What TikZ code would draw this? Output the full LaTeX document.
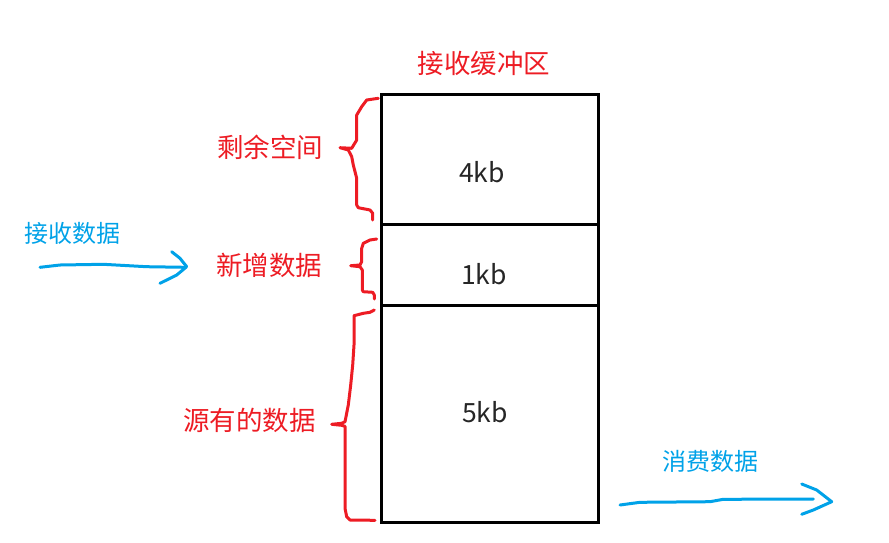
\documentclass[tikz,border=0pt]{standalone}
\usepackage{fontspec}
\newfontfamily\cjk{Noto Sans CJK SC}
\definecolor{pred}{RGB}{237,28,36}
\definecolor{pblue}{RGB}{0,162,232}
\tikzset{
  lbl/.style={font=\cjk\fontsize{26.5}{30}\selectfont, inner sep=0pt},
  redlbl/.style={lbl, text=pred},
  bluelbl/.style={inner sep=0pt, font=\cjk\fontsize{24}{28}\selectfont, text=pblue},
  cell/.style={draw=black, line width=3pt, minimum width=217pt, inner sep=0pt, anchor=north west},
  brace/.style={draw=pred, line width=3pt, line join=round, line cap=round},
  flow/.style={draw=pblue, line width=3pt, line join=round, line cap=round}
}
\begin{document}
\begin{tikzpicture}[x=1pt,y=-1pt]
\useasboundingbox (0,0) rectangle (889,542);
% buffer cells
\node[cell, minimum height=130pt] (free) at (380,93) {};
\node[cell, minimum height=81pt] (new) at (380,223) {};
\node[cell, minimum height=217pt] (old) at (380,304) {};
\node[lbl, text=black!85] (t4) at (482,172) {4kb};
\node[lbl, text=black!85] (t1) at (484,274) {1kb};
\node[lbl, text=black!85] (t5) at (485,412) {5kb};
% labels
\node[redlbl] (title) at (484,63) {接收缓冲区};
\node[redlbl] (lfree) at (270,147) {剩余空间};
\node[redlbl] (lnew) at (269,265) {新增数据};
\node[redlbl] (lold) at (249.5,420) {源有的数据};
\node[bluelbl] (lrecv) at (72,233) {接收数据};
\node[bluelbl] (lcons) at (710,461) {消费数据};
% braces
\draw[brace] (378.3,98.3) -- (366.7,100) -- (361.7,106.7) -- (356.7,115) -- (356.7,140) -- (351.7,148.3) -- (340,147.7)
  -- (348.3,150) -- (351.7,156.7) -- (353.3,165) -- (356.7,178.3) -- (356.7,205) -- (358.3,207.7) -- (370,210) -- (372.7,213.3) -- (372.7,220);
\draw[brace] (376.7,239) -- (370,240) -- (363.3,243.3) -- (361.7,248.3) -- (361.7,261.7) -- (360,265) -- (350.7,265.7)
  -- (360,266.7) -- (362.3,270) -- (362.3,290) -- (363.3,291.7) -- (372.7,292.3) -- (374.3,295) -- (374.3,299);
\draw[brace] (374.3,310) -- (370,312.3) -- (363.3,313.3) -- (354,315.7) -- (354,345) -- (352.7,365) -- (350.7,385) -- (348.3,405) -- (345,421.7) -- (341.7,423.3) -- (331.7,424.3)
  -- (341.7,425.3) -- (345,426.3) -- (345,508.3) -- (346.7,516.7) -- (350,520) -- (375,520.3);
% arrows
\draw[flow] (40,267.3) -- (60,265) -- (103.3,264.3) -- (146.7,266.7) -- (185,267.3);
\draw[flow] (171.7,251.7) -- (180,258.3) -- (186.7,266.7) -- (176.7,275) -- (160,283.3);
\draw[flow] (620,505) -- (640,502.3) -- (710,501.7) -- (723.3,499.3) -- (813.3,499);
\draw[flow] (801.7,484) -- (816.7,490) -- (831.7,501.7) -- (813.3,510) -- (801.7,514.3);
\end{tikzpicture}
\end{document}
